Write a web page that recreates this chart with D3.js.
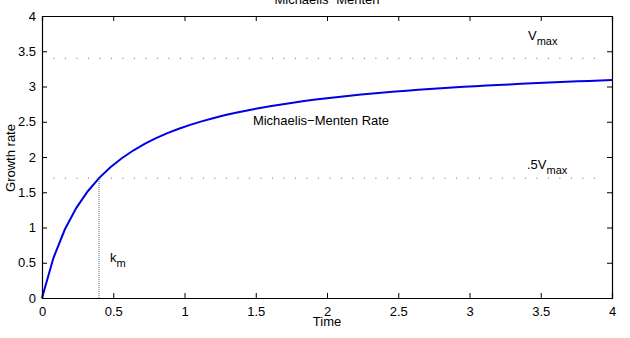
<!DOCTYPE html>
<html>
<head>
<meta charset="utf-8">
<script src="https://cdn.jsdelivr.net/npm/d3@7"></script>
<style>
  body { margin: 0; background: #fff; }
  text { font-family: "Liberation Sans", Arial, sans-serif; fill: #000; }
</style>
</head>
<body>
<svg id="chart" width="630" height="338"></svg>
<script>
// 데이터: 그림에서 읽은 값
const times = [0, 0.08, 0.16, 0.24, 0.32, 0.40, 0.48, 0.56, 0.64, 0.72, 0.80, 0.88, 0.96,
  1.04, 1.12, 1.20, 1.28, 1.36, 1.44, 1.52, 1.60, 1.68, 1.76, 1.84, 1.92, 2.00,
  2.08, 2.16, 2.24, 2.32, 2.40, 2.48, 2.56, 2.64, 2.72, 2.80, 2.88, 2.96,
  3.04, 3.12, 3.20, 3.28, 3.36, 3.44, 3.52, 3.60, 3.68, 3.76, 3.84, 3.92, 4.00];
const rates = [0, 0.567, 0.971, 1.275, 1.511, 1.700, 1.855, 1.983, 2.092, 2.186, 2.267, 2.338, 2.400,
  2.456, 2.505, 2.550, 2.591, 2.627, 2.661, 2.692, 2.720, 2.746, 2.770, 2.793, 2.814, 2.833,
  2.852, 2.869, 2.885, 2.900, 2.914, 2.928, 2.941, 2.953, 2.964, 2.975, 2.985, 2.995,
  3.005, 3.014, 3.022, 3.030, 3.038, 3.046, 3.053, 3.060, 3.067, 3.073, 3.079, 3.085, 3.091];
const vmax = 3.4;
const halfV = 1.7;
const km = 0.4;
const xTicks = [0, 0.5, 1, 1.5, 2, 2.5, 3, 3.5, 4];
const yTicks = [0, 0.5, 1, 1.5, 2, 2.5, 3, 3.5, 4];
const refRange = [0.08, 3.92]; // 점선 가로 범위

const svg = d3.select('#chart');
const padL = 42, padR = 612, padT = 16, padB = 298;

const x = d3.scaleLinear().domain([0, 4]).range([padL, padR]);
const y = d3.scaleLinear().domain([0, 4]).range([padB, padT]);

// 점선 (Vmax, .5Vmax, km)
[vmax, halfV].forEach(v => {
  svg.append('line')
    .attr('x1', x(refRange[0])).attr('x2', x(refRange[1]))
    .attr('y1', y(v)).attr('y2', y(v))
    .attr('stroke', '#000').attr('stroke-width', 0.6)
    .attr('stroke-dasharray', '1,10.5');
});
svg.append('line')
  .attr('x1', x(km)).attr('x2', x(km))
  .attr('y1', y(0)).attr('y2', y(halfV))
  .attr('stroke', '#000').attr('stroke-width', 0.6)
  .attr('stroke-dasharray', '1,1');

// 곡선
const line = d3.line().x((d, i) => x(times[i])).y(d => y(d));
svg.append('path')
  .datum(rates)
  .attr('d', line)
  .attr('fill', 'none')
  .attr('stroke', '#0000e6')
  .attr('stroke-width', 2);

// 축 (MATLAB 스타일: 안쪽 눈금, 상자)
const tickLen = 5;
const axB = svg.append('g').attr('transform', `translate(0,${padB})`)
  .call(d3.axisBottom(x).tickValues(xTicks).tickSize(-tickLen).tickPadding(9).tickFormat(d3.format('')));
const axT = svg.append('g').attr('transform', `translate(0,${padT})`)
  .call(d3.axisTop(x).tickValues(xTicks).tickSize(-tickLen).tickFormat(''));
const axL = svg.append('g').attr('transform', `translate(${padL},0)`)
  .call(d3.axisLeft(y).tickValues(yTicks).tickSize(-tickLen).tickPadding(6).tickFormat(d3.format('')));
const axR = svg.append('g').attr('transform', `translate(${padR},0)`)
  .call(d3.axisRight(y).tickValues(yTicks).tickSize(-tickLen).tickFormat(''));

[axB, axT, axL, axR].forEach(a => {
  a.select('.domain').attr('stroke', '#000').attr('stroke-width', 1.2);
  a.selectAll('.tick line').attr('stroke', '#000');
  a.selectAll('text').style('font-size', '13px').attr('fill', '#000');
});

// 라벨
svg.append('text').attr('x', 327).attr('y', 4).attr('text-anchor', 'middle')
  .style('font-size', '13px').text('Michaelis−Menten');
svg.append('text').attr('x', 327).attr('y', 326).attr('text-anchor', 'middle')
  .style('font-size', '13px').text('Time');
svg.append('text').attr('transform', 'translate(15,158) rotate(-90)').attr('text-anchor', 'middle')
  .style('font-size', '13px').text('Growth rate');
svg.append('text').attr('x', 321).attr('y', 125).attr('text-anchor', 'middle')
  .style('font-size', '13px').text('Michaelis−Menten Rate');

function subLabel(px, py, main, sub) {
  const t = svg.append('text').attr('x', px).attr('y', py).style('font-size', '13px');
  t.append('tspan').text(main);
  t.append('tspan').attr('dy', 5).style('font-size', '11px').text(sub);
}
subLabel(528, 40, 'V', 'max');
subLabel(527, 169, '.5V', 'max');
subLabel(110, 262, 'k', 'm');
</script>
</body>
</html>
